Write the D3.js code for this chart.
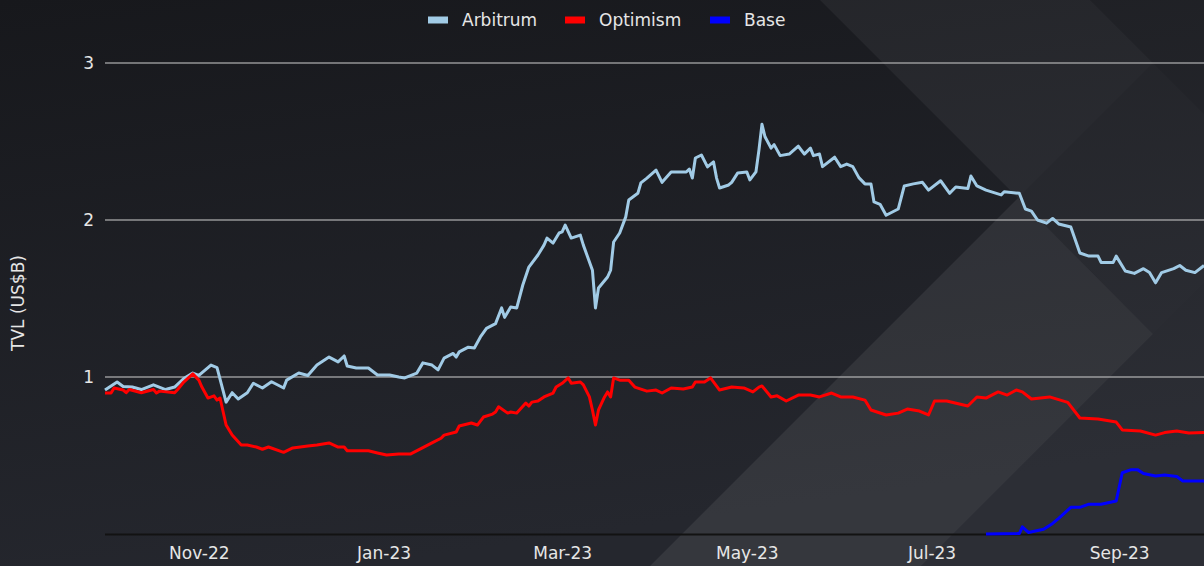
<!DOCTYPE html>
<html>
<head>
<meta charset="utf-8">
<script src="https://cdn.jsdelivr.net/npm/d3@7"></script>
<style>
  body { margin: 0; background: #1b1c21; overflow: hidden; }
  text { font-family: "DejaVu Sans", sans-serif; }
</style>
</head>
<body>
<script>
// TVL in US$ billions
var seriesNames = ["Arbitrum", "Optimism", "Base"];
var seriesColors = ["#a1cbe6", "#ff0000", "#0000ff"];

var arbitrum = [["2022-10-01",0.917],["2022-10-05",0.968],["2022-10-07",0.94],["2022-10-10",0.936],["2022-10-13",0.92],["2022-10-17",0.95],["2022-10-21",0.92],["2022-10-24",0.936],["2022-10-27",0.99],["2022-10-30",1.025],["2022-11-01",1.01],["2022-11-05",1.076],["2022-11-07",1.06],["2022-11-10",0.84],["2022-11-12",0.90],["2022-11-14",0.86],["2022-11-17",0.90],["2022-11-19",0.96],["2022-11-22",0.93],["2022-11-25",0.97],["2022-11-29",0.93],["2022-11-30",0.98],["2022-12-04",1.025],["2022-12-07",1.01],["2022-12-10",1.076],["2022-12-14",1.127],["2022-12-17",1.096],["2022-12-19",1.134],["2022-12-20",1.07],["2022-12-23",1.057],["2022-12-27",1.057],["2022-12-30",1.013],["2023-01-03",1.013],["2023-01-06",1.0],["2023-01-08",0.994],["2023-01-12",1.025],["2023-01-14",1.09],["2023-01-17",1.076],["2023-01-19",1.045],["2023-01-21",1.12],["2023-01-24",1.15],["2023-01-25",1.127],["2023-01-26",1.16],["2023-01-29",1.19],["2023-01-31",1.185],["2023-02-02",1.255],["2023-02-04",1.31],["2023-02-07",1.34],["2023-02-09",1.44],["2023-02-10",1.38],["2023-02-12",1.446],["2023-02-14",1.44],["2023-02-16",1.586],["2023-02-18",1.70],["2023-02-21",1.777],["2023-02-23",1.84],["2023-02-24",1.885],["2023-02-26",1.853],["2023-02-28",1.917],["2023-03-01",1.924],["2023-03-02",1.968],["2023-03-04",1.885],["2023-03-07",1.904],["2023-03-08",1.84],["2023-03-11",1.68],["2023-03-12",1.44],["2023-03-13",1.567],["2023-03-16",1.637],["2023-03-17",1.68],["2023-03-18",1.86],["2023-03-20",1.917],["2023-03-22",2.02],["2023-03-23",2.127],["2023-03-26",2.17],["2023-03-27",2.236],["2023-03-29",2.267],["2023-04-01",2.318],["2023-04-03",2.24],["2023-04-06",2.306],["2023-04-11",2.306],["2023-04-12",2.325],["2023-04-13",2.267],["2023-04-14",2.395],["2023-04-16",2.414],["2023-04-18",2.338],["2023-04-20",2.37],["2023-04-21",2.267],["2023-04-22",2.204],["2023-04-25",2.223],["2023-04-26",2.24],["2023-04-28",2.30],["2023-05-01",2.306],["2023-05-02",2.255],["2023-05-04",2.306],["2023-05-05",2.446],["2023-05-06",2.61],["2023-05-07",2.53],["2023-05-09",2.458],["2023-05-10",2.48],["2023-05-12",2.41],["2023-05-15",2.42],["2023-05-18",2.47],["2023-05-20",2.42],["2023-05-22",2.458],["2023-05-23",2.41],["2023-05-25",2.42],["2023-05-26",2.34],["2023-05-30",2.40],["2023-06-01",2.34],["2023-06-03",2.356],["2023-06-05",2.34],["2023-06-07",2.27],["2023-06-09",2.23],["2023-06-11",2.23],["2023-06-12",2.115],["2023-06-14",2.10],["2023-06-16",2.03],["2023-06-20",2.07],["2023-06-22",2.217],["2023-06-25",2.23],["2023-06-28",2.24],["2023-06-30",2.19],["2023-07-04",2.25],["2023-07-07",2.17],["2023-07-09",2.21],["2023-07-13",2.20],["2023-07-14",2.28],["2023-07-16",2.217],["2023-07-19",2.19],["2023-07-24",2.16],["2023-07-25",2.18],["2023-07-30",2.17],["2023-08-01",2.07],["2023-08-03",2.057],["2023-08-05",2.00],["2023-08-08",1.98],["2023-08-10",2.01],["2023-08-12",1.975],["2023-08-16",1.955],["2023-08-19",1.79],["2023-08-22",1.77],["2023-08-25",1.77],["2023-08-26",1.73],["2023-08-30",1.73],["2023-08-31",1.77],["2023-09-03",1.675],["2023-09-06",1.66],["2023-09-09",1.69],["2023-09-11",1.665],["2023-09-13",1.60],["2023-09-15",1.665],["2023-09-19",1.69],["2023-09-21",1.71],["2023-09-23",1.68],["2023-09-26",1.665],["2023-09-29",1.71]];

var optimism = [["2022-10-01",0.898],["2022-10-03",0.898],["2022-10-04",0.93],["2022-10-07",0.917],["2022-10-08",0.90],["2022-10-09",0.92],["2022-10-13",0.90],["2022-10-17",0.92],["2022-10-18",0.898],["2022-10-19",0.91],["2022-10-24",0.90],["2022-10-25",0.92],["2022-10-27",0.968],["2022-10-30",1.02],["2022-11-01",0.98],["2022-11-02",0.936],["2022-11-04",0.866],["2022-11-06",0.88],["2022-11-07",0.853],["2022-11-08",0.866],["2022-11-10",0.694],["2022-11-12",0.63],["2022-11-15",0.567],["2022-11-17",0.567],["2022-11-20",0.554],["2022-11-22",0.54],["2022-11-24",0.554],["2022-11-29",0.52],["2022-12-02",0.548],["2022-12-07",0.56],["2022-12-10",0.567],["2022-12-14",0.58],["2022-12-17",0.554],["2022-12-19",0.554],["2022-12-20",0.53],["2022-12-27",0.53],["2022-12-30",0.516],["2023-01-02",0.503],["2023-01-06",0.51],["2023-01-10",0.51],["2023-01-14",0.55],["2023-01-17",0.58],["2023-01-20",0.61],["2023-01-21",0.63],["2023-01-25",0.65],["2023-01-26",0.688],["2023-01-30",0.707],["2023-02-01",0.694],["2023-02-03",0.745],["2023-02-06",0.764],["2023-02-07",0.777],["2023-02-08",0.81],["2023-02-11",0.77],["2023-02-12",0.777],["2023-02-14",0.77],["2023-02-17",0.834],["2023-02-18",0.815],["2023-02-19",0.84],["2023-02-21",0.847],["2023-02-23",0.873],["2023-02-26",0.898],["2023-02-27",0.936],["2023-03-01",0.96],["2023-03-03",0.994],["2023-03-04",0.96],["2023-03-07",0.968],["2023-03-08",0.95],["2023-03-10",0.873],["2023-03-11",0.79],["2023-03-12",0.694],["2023-03-13",0.79],["2023-03-15",0.873],["2023-03-16",0.905],["2023-03-17",0.873],["2023-03-18",0.994],["2023-03-20",0.98],["2023-03-23",0.98],["2023-03-25",0.936],["2023-03-29",0.91],["2023-04-01",0.917],["2023-04-03",0.898],["2023-04-06",0.93],["2023-04-10",0.924],["2023-04-13",0.936],["2023-04-14",0.968],["2023-04-17",0.968],["2023-04-19",0.994],["2023-04-22",0.917],["2023-04-26",0.936],["2023-04-30",0.93],["2023-05-03",0.905],["2023-05-05",0.936],["2023-05-06",0.943],["2023-05-09",0.873],["2023-05-11",0.88],["2023-05-14",0.847],["2023-05-18",0.885],["2023-05-22",0.885],["2023-05-25",0.873],["2023-05-29",0.898],["2023-06-01",0.873],["2023-06-05",0.873],["2023-06-09",0.853],["2023-06-11",0.79],["2023-06-16",0.758],["2023-06-20",0.77],["2023-06-23",0.796],["2023-06-27",0.783],["2023-06-30",0.758],["2023-07-02",0.847],["2023-07-06",0.847],["2023-07-13",0.815],["2023-07-16",0.873],["2023-07-19",0.866],["2023-07-23",0.905],["2023-07-26",0.885],["2023-07-29",0.917],["2023-07-31",0.905],["2023-08-03",0.86],["2023-08-09",0.873],["2023-08-15",0.838],["2023-08-19",0.739],["2023-08-25",0.733],["2023-08-31",0.713],["2023-09-02",0.663],["2023-09-08",0.656],["2023-09-13",0.63],["2023-09-16",0.646],["2023-09-20",0.656],["2023-09-24",0.643],["2023-09-29",0.646]];

var base = [["2023-07-19",0.0],["2023-07-30",0.003],["2023-07-31",0.045],["2023-08-02",0.01],["2023-08-07",0.03],["2023-08-10",0.067],["2023-08-12",0.10],["2023-08-16",0.17],["2023-08-19",0.17],["2023-08-22",0.19],["2023-08-26",0.19],["2023-08-31",0.21],["2023-09-02",0.39],["2023-09-05",0.41],["2023-09-07",0.41],["2023-09-09",0.385],["2023-09-13",0.37],["2023-09-16",0.376],["2023-09-20",0.366],["2023-09-22",0.338],["2023-09-29",0.338]];

var yTicks = [1, 2, 3];
var xTickDates = ["2022-11-01", "2023-01-01", "2023-03-01", "2023-05-01", "2023-07-01", "2023-09-01"];
var xTickLabels = ["Nov-22", "Jan-23", "Mar-23", "May-23", "Jul-23", "Sep-23"];

var W = 1204, H = 566;
var margin = {top: 63, right: 0, bottom: 32, left: 105},
    width = W - margin.left - margin.right,
    height = H - margin.top - margin.bottom;

var parseDate = d3.timeParse("%Y-%m-%d");

var x = d3.scaleTime()
    .domain([parseDate("2022-10-01"), parseDate("2023-09-29")])
    .range([0, width]);
var y = d3.scaleLinear().domain([0, 3]).range([height, 0]);

var svg = d3.select("body").append("svg")
    .attr("width", W)
    .attr("height", H);

// background: dark gradient plus faint diagonal panels
var defs = svg.append("defs");
var grad = defs.append("linearGradient").attr("id", "bg")
    .attr("x1", 0).attr("y1", 0).attr("x2", 0.3).attr("y2", 1);
grad.append("stop").attr("offset", "0%").attr("stop-color", "#17181c");
grad.append("stop").attr("offset", "100%").attr("stop-color", "#25272e");
svg.append("rect").attr("width", W).attr("height", H).attr("fill", "url(#bg)");

var panels = [
  {pts: [[820,0],[1090,0],[1153,63],[1018,198]], op: 0.05},
  {pts: [[1090,0],[1204,0],[1204,114]], op: 0.025},
  {pts: [[1018,198],[1153,63],[1204,114],[1204,283],[1153,334]], op: 0.04},
  {pts: [[1018,198],[1153,334],[921,566],[650,566]], op: 0.075},
  {pts: [[1204,283],[1204,566],[921,566]], op: 0.035}
];
svg.selectAll(".panel").data(panels).enter().append("polygon")
    .attr("class", "panel")
    .attr("points", function(d) { return d.pts.join(" "); })
    .attr("fill", "#ffffff")
    .attr("fill-opacity", function(d) { return d.op; });

var g = svg.append("g").attr("transform", "translate(" + margin.left + "," + margin.top + ")");

// grid lines
g.append("g").selectAll("line").data(yTicks).enter().append("line")
    .attr("x1", 0).attr("x2", width)
    .attr("y1", function(d) { return y(d); })
    .attr("y2", function(d) { return y(d); })
    .attr("stroke", "#cfcfcf")
    .attr("stroke-width", 1.2);

g.append("line")
    .attr("x1", 0).attr("x2", width)
    .attr("y1", y(0) + 0.5).attr("y2", y(0) + 0.5)
    .attr("stroke", "#121212").attr("stroke-width", 2);

// y axis labels
var yAxis = g.append("g").call(d3.axisLeft(y).tickValues(yTicks).tickSize(0).tickPadding(11).tickFormat(d3.format("d")));
yAxis.select(".domain").remove();
yAxis.selectAll("text").attr("fill", "#e6e6e6").style("font-size", "17px");

// x axis labels
var xAxis = g.append("g")
    .attr("transform", "translate(0," + height + ")")
    .call(d3.axisBottom(x)
      .tickValues(xTickDates.map(parseDate))
      .tickSize(0).tickPadding(13)
      .tickFormat(function(d, i) { return xTickLabels[i]; }));
xAxis.select(".domain").remove();
xAxis.selectAll("text").attr("fill", "#e6e6e6").style("font-size", "17px");

svg.append("text")
    .attr("transform", "translate(24,303) rotate(-90)")
    .attr("text-anchor", "middle")
    .attr("fill", "#e6e6e6")
    .style("font-size", "17px")
    .text("TVL (US$B)");

var line = d3.line()
    .x(function(d) { return x(parseDate(d[0])); })
    .y(function(d) { return y(d[1]); });

var allSeries = [arbitrum, optimism, base];
g.selectAll(".series").data(allSeries).enter().append("path")
    .attr("class", "series")
    .attr("d", line)
    .attr("fill", "none")
    .attr("stroke", function(d, i) { return seriesColors[i]; })
    .attr("stroke-width", 3)
    .attr("stroke-linejoin", "round");

// legend
var legendX = [428, 565, 710];
var legend = svg.selectAll(".legend").data(seriesNames).enter().append("g")
    .attr("class", "legend")
    .attr("transform", function(d, i) { return "translate(" + legendX[i] + ",0)"; });
legend.append("rect")
    .attr("x", 0).attr("y", 16.5).attr("width", 20).attr("height", 7)
    .attr("fill", function(d, i) { return seriesColors[i]; });
legend.append("text")
    .attr("x", 34).attr("y", 26)
    .attr("fill", "#e6e6e6")
    .style("font-size", "17px")
    .text(function(d) { return d; });
</script>
</body>
</html>
